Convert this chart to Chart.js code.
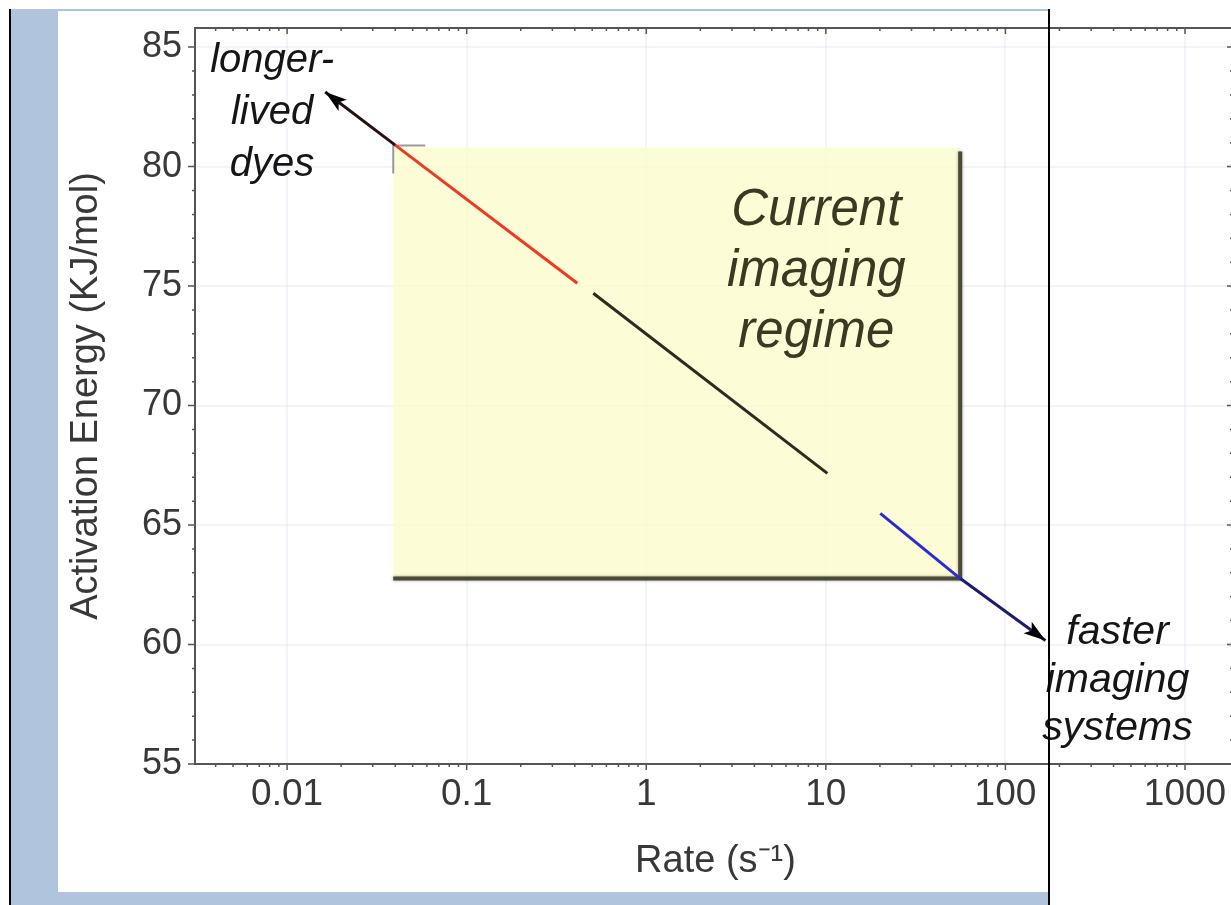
<!DOCTYPE html>
<html>
<head>
<meta charset="utf-8">
<script src="https://cdn.jsdelivr.net/npm/chart.js@4.4.0/dist/chart.umd.min.js"></script>
<style>
html, body { margin:0; padding:0; width:1231px; height:905px; overflow:hidden; background:#fff; }
#frame { position:absolute; left:9px; top:9px; width:1041px; height:896px; background:#b0c4de; }
#panel { position:absolute; left:58px; top:11px; width:990px; height:881px; background:#fff; }
#lineL { position:absolute; left:9px; top:9px; width:2px; height:896px; background:#000; }
#lineR { position:absolute; left:1048px; top:9px; width:2px; height:896px; background:#000; z-index:5; }
#chart { position:absolute; left:0; top:0; z-index:2; }
</style>
</head>
<body>
<div id="frame"></div>
<div id="panel"></div>
<div id="lineL"></div>
<div id="lineR"></div>
<canvas id="chart" width="1243" height="905"></canvas>
<script>

// AXES
const xTickLabels = ['0.01', '0.1', '1', '10', '100', '1000'];
const yTickLabels = ['55', '60', '65', '70', '75', '80', '85'];
const xMin = 0.00307;
const xMax = 1923;
const yMin = 55;
const yMax = 85.8;

// SEGMENTS (rate s^-1, activation energy kJ/mol)
const dyesRate = [0.040, 0.0163];
const dyesEnergy = [80.9, 83.12];

const redRate = [0.040, 0.413];
const redEnergy = [80.9, 75.12];

const midRate = [0.507, 10.2];
const midEnergy = [74.7, 67.16];

const blueRate = [20.1, 56.1];
const blueEnergy = [65.49, 62.76];

const fastRate = [56.1, 167];
const fastEnergy = [62.76, 60.17];

// current imaging regime box: rate range, energy range
const regimeRate = [0.039, 56];
const regimeEnergy = [62.76, 80.8];


function pts(xs, ys){
    return xs.map((x, i) => ({x:x, y:ys[i]}));
}

// minor log ticks 1..9 per decade
const xTicks = [];
for(let e = -3; e <= 3; e++){
    for(let m = 1; m <= 9; m++){
        const v = Number((m * Math.pow(10, e)).toPrecision(6));
        if(v >= xMin && v <= xMax){
            xTicks.push({value:v, major: m === 1});
        }
    }
}

const yTicks = [];
for(let v = 55; v <= 85; v++){
    yTicks.push({value:v, major: v % 5 === 0});
}

const FONT = '"Liberation Sans", Arial, sans-serif';
const GRID = 'rgba(200,206,228,0.22)';
const AXIS = '#555';


// notes placed in data units, text centred on x, first baseline at y
const notes = [
    {lines:['longer-', 'lived', 'dyes'], x:0.00825, y:83.95, gap:52, size:40, color:'#151515'},
    {lines:['Current', 'imaging', 'regime'], x:8.85, y:77.55, gap:61, size:51, color:'#3a3a22'},
    {lines:['faster', 'imaging', 'systems'], x:421, y:60.04, gap:48, size:41, color:'#151515'}
];


const regimeBox = {
    id:'regimeBox',
    beforeDatasetsDraw(chart){
        const c = chart.ctx;
        const xs = chart.scales.x;
        const ys = chart.scales.y;
        const x1 = xs.getPixelForValue(regimeRate[0]);
        const x2 = xs.getPixelForValue(regimeRate[1]);
        const y1 = ys.getPixelForValue(regimeEnergy[1]);
        const y2 = ys.getPixelForValue(regimeEnergy[0]);
        c.save();
        c.fillStyle = 'rgba(251,251,207,0.85)';
        c.fillRect(x1, y1, x2 - x1, y2 - y1);
        // dark edge right and bottom
        c.shadowColor = 'rgba(60,60,40,0.5)';
        c.shadowBlur = 3;
        c.strokeStyle = '#4a4a36';
        c.lineWidth = 4;
        c.beginPath();
        c.moveTo(x2, y1 + 4);
        c.lineTo(x2, y2);
        c.lineTo(x1, y2);
        c.stroke();
        c.shadowBlur = 0;
        // small corner mark
        c.strokeStyle = '#9a9a9a';
        c.lineWidth = 2;
        c.beginPath();
        c.moveTo(x1 + 32, y1 - 2);
        c.lineTo(x1, y1 - 2);
        c.lineTo(x1, y1 + 26);
        c.stroke();
        c.restore();
    }
};


const arrowHeads = {
    id:'arrowHeads',
    afterDatasetsDraw(chart){
        const c = chart.ctx;
        chart.data.datasets.forEach((ds, i) => {
            if(!ds.arrow) return;
            const d = chart.getDatasetMeta(i).data;
            const a = d[d.length - 2];
            const b = d[d.length - 1];
            const ang = Math.atan2(b.y - a.y, b.x - a.x);
            c.save();
            c.translate(b.x, b.y);
            c.rotate(ang);
            c.fillStyle = '#000';
            c.beginPath();
            c.moveTo(0, 0);
            c.lineTo(-22, -7);
            c.lineTo(-17, 0);
            c.lineTo(-22, 7);
            c.closePath();
            c.fill();
            c.restore();
        });
    }
};


const frameTicks = {
    id:'frameTicks',
    afterDraw(chart){
        const c = chart.ctx;
        const a = chart.chartArea;
        const xs = chart.scales.x;
        const ys = chart.scales.y;
        c.save();
        c.strokeStyle = AXIS;
        c.lineWidth = 2;
        // top and right edges
        c.beginPath();
        c.moveTo(a.left, a.top);
        c.lineTo(a.right, a.top);
        c.lineTo(a.right, a.bottom);
        c.stroke();
        c.lineWidth = 1.5;
        c.beginPath();
        xs.ticks.forEach(t => {
            const px = xs.getPixelForValue(t.value);
            const len = t.major ? 6 : 3;
            c.moveTo(px, a.bottom);
            c.lineTo(px, a.bottom + len);
            c.moveTo(px, a.top);
            c.lineTo(px, a.top + len);
        });
        ys.ticks.forEach(t => {
            const py = ys.getPixelForValue(t.value);
            c.moveTo(a.left - (t.major ? 7 : 3), py);
            c.lineTo(a.left, py);
            c.moveTo(a.right - (t.major ? 9 : 6), py);
            c.lineTo(a.right, py);
        });
        c.stroke();
        c.restore();

        // text notes
        c.save();
        c.textAlign = 'center';
        c.textBaseline = 'alphabetic';
        notes.forEach(n => {
            const px = xs.getPixelForValue(n.x);
            const py = ys.getPixelForValue(n.y);
            c.font = 'italic ' + n.size + 'px ' + FONT;
            c.fillStyle = n.color;
            n.lines.forEach((s, k) => c.fillText(s, px, py + k * n.gap));
        });
        c.restore();
    }
};


function seg(label, xs, ys, color, arrow){
    return {
        label:label,
        data:pts(xs, ys),
        borderColor:color,
        borderWidth:3,
        pointRadius:0,
        fill:false,
        tension:0,
        arrow:arrow
    };
}


new Chart(

document.getElementById('chart'),

{
    type:'line',

    data:{
        datasets:[
            seg('dyes', dyesRate, dyesEnergy, '#2a0f0f', true),
            seg('red', redRate, redEnergy, '#ee3a22', false),
            seg('mid', midRate, midEnergy, '#2b2b1e', false),
            seg('blue', blueRate, blueEnergy, '#2b2bd2', false),
            seg('fast', fastRate, fastEnergy, '#1c1c6e', true)
        ]
    },

    options:{
        responsive:false,
        animation:false,
        layout:{padding:{top:28, right:7, left:0, bottom:0}},
        plugins:{
            legend:{display:false},
            tooltip:{enabled:false}
        },
        scales:{
            x:{
                type:'logarithmic',
                min:xMin,
                max:xMax,
                afterBuildTicks:s => { s.ticks = xTicks.map(t => ({...t})); },
                afterFit:s => { s.height = 141; },
                ticks:{
                    autoSkip:false,
                    maxRotation:0,
                    minRotation:0,
                    padding:9,
                    color:'#383838',
                    font:{size:37, family:FONT},
                    callback:v => {
                        const l = xTickLabels.find(s => Number(s) === v);
                        return l === undefined ? '' : l;
                    }
                },
                grid:{
                    drawTicks:false,
                    lineWidth:2,
                    color:ctx => (ctx.tick && ctx.tick.major) ? GRID : 'rgba(0,0,0,0)'
                },
                border:{display:true, color:AXIS, width:2},
                title:{
                    display:true,
                    text:'Rate (s⁻¹)',
                    color:'#383838',
                    font:{size:38, family:FONT},
                    padding:{top:0, bottom:21}
                }
            },
            y:{
                type:'linear',
                min:yMin,
                max:yMax,
                afterBuildTicks:s => { s.ticks = yTicks.map(t => ({...t})); },
                afterFit:s => { s.width = 195; },
                ticks:{
                    autoSkip:false,
                    padding:13,
                    color:'#383838',
                    font:{size:36, family:FONT, lineHeight:0.8},
                    callback:v => yTickLabels.includes(String(v)) ? String(v) : ''
                },
                grid:{
                    drawTicks:false,
                    lineWidth:2,
                    color:ctx => (ctx.tick && ctx.tick.major) ? GRID : 'rgba(0,0,0,0)'
                },
                border:{display:true, color:AXIS, width:2},
                title:{
                    display:true,
                    text:'Activation Energy (KJ/mol)',
                    color:'#383838',
                    font:{size:38, family:FONT},
                    padding:{top:64, bottom:0}
                }
            }
        }
    },

    plugins:[regimeBox, arrowHeads, frameTicks]

});

</script>
</body>
</html>
